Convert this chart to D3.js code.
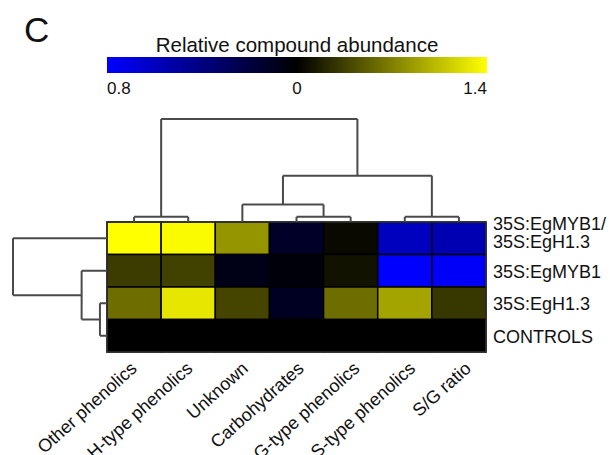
<!DOCTYPE html>
<html>
<head>
<meta charset="utf-8">
<script src="https://cdn.jsdelivr.net/npm/d3@7"></script>
<style>
  body { margin: 0; background: #fff; }
  text { font-family: "Liberation Sans", Arial, sans-serif; fill: #111; }
</style>
</head>
<body>
<script>
var wi = 610;
var he = 455;

// categories (columns, left to right) and rows (top to bottom)
var columns = ["Other phenolics", "H-type phenolics", "Unknown", "Carbohydrates",
               "G-type phenolics", "S-type phenolics", "S/G ratio"];
var rows = ["35S:EgMYB1/\n35S:EgH1.3", "35S:EgMYB1", "35S:EgH1.3", "CONTROLS"];

// relative abundance per row (negative = blue side of the key)
var mybH13   = [1.40, 1.38, 0.82, -0.13, 0.05, -0.60, -0.56];
var myb1     = [0.33, 0.36, -0.07, -0.03, 0.10, -0.80, -0.78];
var h13      = [0.60, 1.26, 0.38, -0.11, 0.60, 0.90, 0.30];
var controls = [0, 0, 0, 0, 0, 0, 0];
var values = [mybH13, myb1, h13, controls];

// colour key
var keyDomain = [-0.8, 0, 1.4];
var keyLabels = ["0.8", "0", "1.4"];

// dendrograms: leaves are indexes, h = merge height
var colTree = {h: 1.0, children: [
  {h: 0.05, children: [0, 1]},
  {h: 0.45, children: [
    {h: 0.17, children: [2, {h: 0.05, children: [3, 4]}]},
    {h: 0.05, children: [5, 6]}
  ]}
]};
var rowTree = {h: 1.0, children: [
  0,
  {h: 0.27, children: [1, {h: 0.075, children: [2, 3]}]}
]};

var svg = d3.select("body").append("svg")
    .attr("width", wi)
    .attr("height", he);

var hmLeft = 107, hmRight = 486, hmTop = 222, hmBottom = 352;

var xScale = d3.scaleBand().domain(d3.range(columns.length)).range([hmLeft, hmRight]);
var yScale = d3.scaleBand().domain(d3.range(rows.length)).range([hmTop, hmBottom]);
var color = d3.scaleLinear().domain(keyDomain).range(["#0000ff", "#000000", "#ffff00"]).clamp(true);

// panel letter
svg.append("text")
    .attr("x", 24).attr("y", 42)
    .style("font-size", "35px")
    .text("C");

// colour key
var keyScale = d3.scaleLinear().domain(keyDomain).range([107, 297, 487]);
var grad = svg.append("defs").append("linearGradient")
    .attr("id", "keygrad")
    .attr("x1", "0%").attr("x2", "100%");
grad.selectAll("stop")
    .data(d3.range(0, 1.0001, 0.05))
    .enter().append("stop")
    .attr("offset", function(d) { return (d * 100) + "%"; })
    .attr("stop-color", function(d) { return color(keyScale.invert(107 + d * 380)); });

svg.append("rect")
    .attr("x", keyScale(keyDomain[0]))
    .attr("y", 57)
    .attr("width", keyScale(keyDomain[2]) - keyScale(keyDomain[0]))
    .attr("height", 16)
    .attr("fill", "url(#keygrad)");

svg.append("text")
    .attr("x", keyScale(0)).attr("y", 52)
    .attr("text-anchor", "middle")
    .style("font-size", "20.5px")
    .text("Relative compound abundance");

svg.selectAll(".keylab")
    .data(keyDomain)
    .enter().append("text")
    .attr("class", "keylab")
    .attr("x", function(d) { return keyScale(d); })
    .attr("y", 94)
    .attr("text-anchor", function(d, i) { return ["start", "middle", "end"][i]; })
    .style("font-size", "17px")
    .text(function(d, i) { return keyLabels[i]; });

// heatmap cells
var cells = [];
values.forEach(function(r, i) {
  r.forEach(function(v, j) { cells.push({row: i, col: j, v: v}); });
});

svg.append("g").selectAll("rect")
    .data(cells)
    .enter().append("rect")
    .attr("x", function(d) { return xScale(d.col); })
    .attr("y", function(d) { return yScale(d.row); })
    .attr("width", xScale.bandwidth())
    .attr("height", yScale.bandwidth())
    .attr("fill", function(d) { return color(d.v); })
    .attr("stroke", "#000")
    .attr("stroke-width", 1.5);

svg.append("rect")
    .attr("x", hmLeft).attr("y", hmTop)
    .attr("width", hmRight - hmLeft).attr("height", hmBottom - hmTop)
    .attr("fill", "none")
    .attr("stroke", "#333")
    .attr("stroke-width", 1.5);

// row labels
rows.forEach(function(r, i) {
  var parts = r.split("\n");
  var t = svg.append("text")
      .attr("x", hmRight + 7)
      .style("font-size", "18px");
  if (parts.length > 1) {
    t.attr("y", yScale(i) + 8);
    parts.forEach(function(p, k) {
      t.append("tspan").attr("x", hmRight + 7).attr("dy", k == 0 ? 0 : 18).text(p);
    });
  } else {
    t.attr("y", yScale(i) + yScale.bandwidth() / 2 + 7).text(r);
  }
});

// column labels (spread a bit wider than the cells)
var labScale = d3.scaleBand().domain(d3.range(columns.length)).range([hmLeft + 3, hmRight + 14]);
svg.selectAll(".collab")
    .data(columns)
    .enter().append("text")
    .attr("class", "collab")
    .attr("text-anchor", "end")
    .attr("transform", function(d, i) {
      return "translate(" + (labScale(i) + labScale.bandwidth() / 2) + "," + (hmBottom + 18) + ") rotate(-42)";
    })
    .style("font-size", "18px")
    .text(function(d) { return d; });

// dendrograms
function layout(node, pos) {
  if (typeof node === "number") return {p: pos(node), h: 0};
  var a = layout(node.children[0], pos);
  var b = layout(node.children[1], pos);
  return {p: (a.p + b.p) / 2, h: node.h, kids: [a, b]};
}

function drawTree(g, n, horizontal, hScale) {
  if (!n.kids) return;
  n.kids.forEach(function(k) {
    var pts = horizontal
      ? [[k.p, hScale(k.h)], [k.p, hScale(n.h)]]
      : [[hScale(k.h), k.p], [hScale(n.h), k.p]];
    g.append("path").attr("d", d3.line()(pts));
    drawTree(g, k, horizontal, hScale);
  });
  var a = n.kids[0].p, b = n.kids[1].p;
  var bar = horizontal
    ? [[a, hScale(n.h)], [b, hScale(n.h)]]
    : [[hScale(n.h), a], [hScale(n.h), b]];
  g.append("path").attr("d", d3.line()(bar));
}

var colH = d3.scaleLinear().domain([0, 1]).range([hmTop, 119]);
var rowH = d3.scaleLinear().domain([0, 1]).range([hmLeft, 13]);

var gTop = svg.append("g").attr("fill", "none").attr("stroke", "#4a4a4a").attr("stroke-width", 2);
drawTree(gTop, layout(colTree, function(i) { return xScale(i) + xScale.bandwidth() / 2; }), true, colH);

var gLeft = svg.append("g").attr("fill", "none").attr("stroke", "#4a4a4a").attr("stroke-width", 2);
drawTree(gLeft, layout(rowTree, function(i) { return yScale(i) + yScale.bandwidth() / 2; }), false, rowH);
</script>
</body>
</html>
